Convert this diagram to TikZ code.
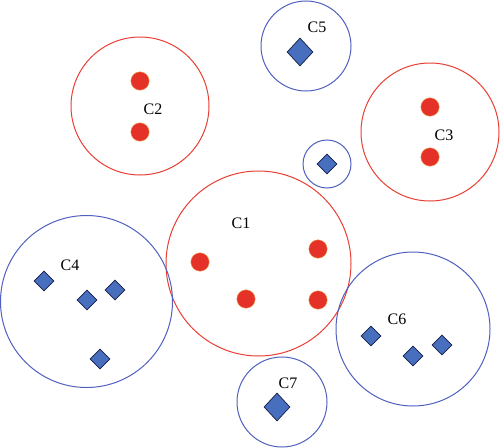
\documentclass[tikz,border=0pt]{standalone}
\usepackage{fontspec}
\setmainfont{Liberation Serif}
\usetikzlibrary{shapes.geometric}
\definecolor{cred}{RGB}{232,62,52}
\definecolor{dotred}{RGB}{229,50,40}
\definecolor{dotrim}{RGB}{240,170,90}
\definecolor{cblue}{RGB}{80,96,190}
\definecolor{dfill}{RGB}{72,110,190}
\definecolor{dline}{RGB}{20,30,70}
\begin{document}
\begin{tikzpicture}[x=1pt,y=-1pt,
  redring/.style={circle,draw=cred,line width=1pt,inner sep=0pt,minimum size=#1},
  bluering/.style={circle,draw=cblue,line width=1pt,inner sep=0pt,minimum size=#1},
  rdot/.style={circle,fill=dotred,draw=dotrim,line width=0.4pt,inner sep=0pt,minimum size=18.5pt},
  sdia/.style={diamond,fill=dfill,draw=dline,line width=0.7pt,inner sep=0pt,minimum width=20pt,minimum height=20pt},
  bdia/.style={diamond,fill=dfill,draw=dline,line width=0.7pt,inner sep=0pt,minimum width=26pt,minimum height=28pt},
  lbl/.style={font=\fontsize{16}{18}\selectfont,inner sep=0pt}]
\useasboundingbox (0,0) rectangle (500,447);
% C2
\node[redring=138pt] (r2) at (140,106) {};
\node[rdot] (d2a) at (140,81) {};
\node[rdot] (d2b) at (140,132) {};
\node[lbl] (l2) at (153,109) {C2};
% C3
\node[redring=138pt] (r3) at (430,132) {};
\node[rdot] (d3a) at (430,107) {};
\node[rdot] (d3b) at (430,157) {};
\node[lbl] (l3) at (444,135) {C3};
% C5
\node[bluering=90pt] (r5) at (306,46) {};
\node[bdia] (k5) at (300,52) {};
\node[lbl] (l5) at (317,27) {C5};
% small
\node[bluering=48pt] (r8) at (327,164) {};
\node[sdia] (k8) at (327,164) {};
% C1
\node[redring=185pt] (r1) at (258.5,263.5) {};
\node[rdot] (d1a) at (200,262) {};
\node[rdot] (d1b) at (246,299) {};
\node[rdot] (d1c) at (318,249) {};
\node[rdot] (d1d) at (318,300) {};
\node[lbl] (l1) at (241,223) {C1};
% C4
\node[bluering=172pt] (r4) at (86.5,301.5) {};
\node[sdia] (k4a) at (44,281) {};
\node[sdia] (k4b) at (87,300) {};
\node[sdia] (k4c) at (115,290) {};
\node[sdia] (k4d) at (100,359) {};
\node[lbl] (l4) at (70,265) {C4};
% C6
\node[bluering=154pt] (r6) at (413,329) {};
\node[sdia] (k6a) at (371,336) {};
\node[sdia] (k6b) at (413,356) {};
\node[sdia] (k6c) at (442,345) {};
\node[lbl] (l6) at (397,319) {C6};
% C7
\node[bluering=90pt] (r7) at (282,402) {};
\node[bdia] (k7) at (277,407) {};
\node[lbl] (l7) at (288,383) {C7};
\end{tikzpicture}
\end{document}
